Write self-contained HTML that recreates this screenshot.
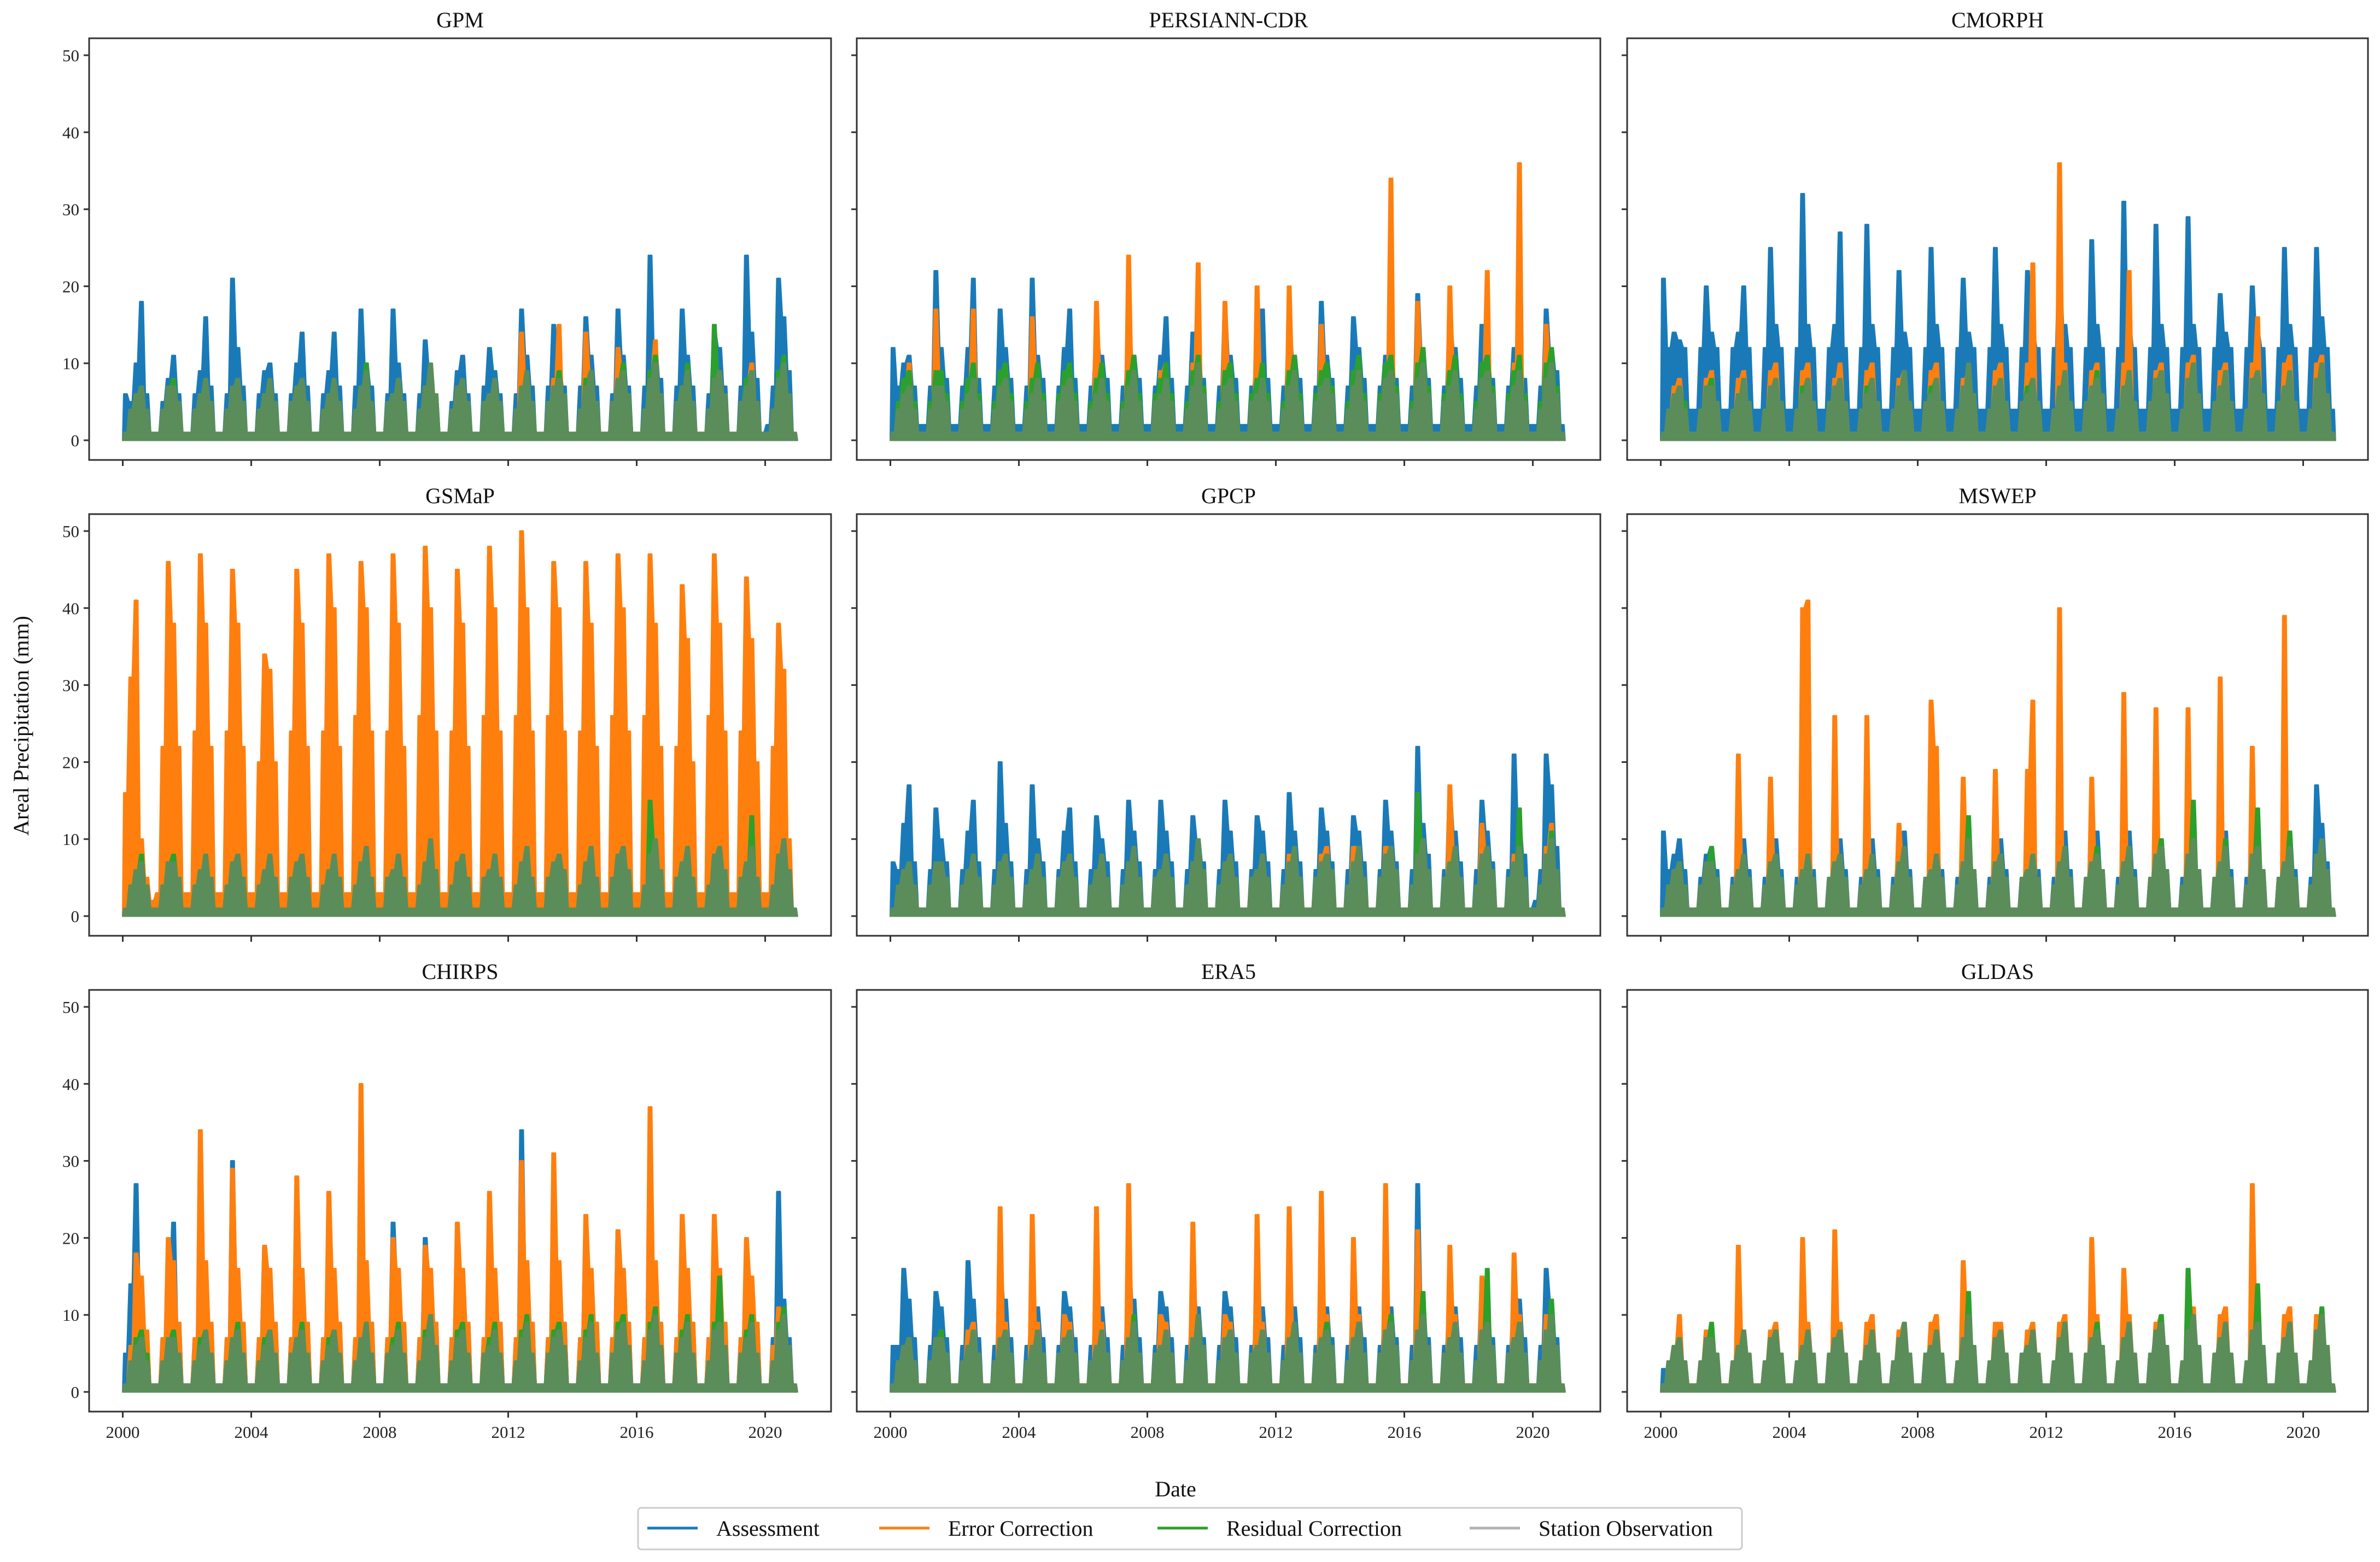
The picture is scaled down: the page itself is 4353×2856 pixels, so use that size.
<!DOCTYPE html>
<html><head><meta charset="utf-8">
<style>
html,body{margin:0;padding:0;background:#fff;}
svg{display:block;font-family:"Liberation Serif","DejaVu Serif",serif;}
</style></head>
<body>
<svg id="chart" width="4353" height="2856" viewBox="0 0 4353 2856" xmlns="http://www.w3.org/2000/svg"></svg>
<script>
// ---- data: 6 bins per year, 2000..2020 (mm) ----
const panelNames = ["GPM","PERSIANN-CDR","CMORPH","GSMaP","GPCP","MSWEP","CHIRPS","ERA5","GLDAS"];
const yTicks = [0,10,20,30,40,50];
const xTicks = [2000,2004,2008,2012,2016,2020];
const seriesNames = ["Assessment","Error Correction","Residual Correction","Station Observation"];

const ST = [1,4,6,7,4,1, 1,4,7,7,5,1, 1,4,6,8,5,1, 1,4,7,8,5,1, 1,4,6,8,5,1, 1,5,7,8,5,1, 1,4,6,8,5,1, 1,4,7,9,5,1, 1,5,6,8,5,1, 1,4,7,10,6,1, 1,4,7,8,5,1, 1,5,6,8,5,1, 1,4,7,9,5,1, 1,5,7,8,6,1, 1,4,7,9,5,1, 1,5,8,9,6,1, 1,4,8,10,6,1, 1,5,7,9,5,1, 1,4,8,9,6,1, 1,5,7,9,5,1, 1,4,8,10,6,1];

const B1 = [6,5,10,18,6,1, 1,5,8,11,6,1, 1,6,9,16,7,1, 1,6,21,12,7,1, 1,6,9,10,6,1, 1,6,10,14,7,1, 1,6,9,14,7,1, 1,7,17,10,7,1, 1,6,17,10,6,1, 1,6,13,9,6,1, 1,5,9,11,6,1, 1,7,12,9,6,1, 1,6,17,11,7,1, 1,7,15,10,7,1, 1,7,16,11,7,1, 1,6,17,11,7,1, 1,7,24,12,8,1, 1,7,17,11,7,1, 1,6,14,12,7,1, 1,7,24,14,8,1, 2,7,21,16,9,1];
const O1 = [1,2,4,5,3,1, 1,3,5,6,4,1, 1,3,5,6,4,1, 1,3,5,7,4,1, 1,3,5,6,4,1, 1,3,6,7,4,1, 1,3,6,7,4,1, 1,3,6,7,4,1, 1,3,6,7,4,1, 1,3,6,7,4,1, 1,3,5,7,4,1, 1,3,6,7,4,1, 1,4,14,8,5,1, 1,4,8,15,5,1, 1,4,14,9,5,1, 1,4,12,9,5,1, 1,4,9,13,5,1, 1,4,7,9,5,1, 1,4,9,8,5,1, 1,4,8,10,5,1, 1,4,8,9,5,1];
const R1 = [1,4,6,7,4,1, 1,4,7,8,5,1, 1,4,6,8,5,1, 1,4,7,8,5,1, 1,4,6,8,5,1, 1,5,7,8,5,1, 1,4,6,8,5,1, 1,4,7,10,5,1, 1,5,6,8,5,1, 1,4,7,10,6,1, 1,4,7,8,5,1, 1,5,6,8,5,1, 1,4,7,9,5,1, 1,5,7,9,6,1, 1,4,8,9,5,1, 1,5,8,10,6,1, 1,4,9,11,6,1, 1,5,7,10,5,1, 1,4,15,9,6,1, 1,5,8,9,5,1, 1,4,9,11,6,1];

const B2 = [12,7,10,11,7,2, 2,7,22,12,8,2, 2,7,12,21,8,2, 2,7,17,12,8,2, 2,7,21,11,8,2, 2,7,12,17,8,2, 2,7,14,11,8,2, 2,7,15,11,8,2, 2,7,11,16,8,2, 2,7,14,11,8,2, 2,7,17,11,8,2, 2,7,11,17,8,2, 2,7,15,11,8,2, 2,7,18,11,8,2, 2,7,16,12,8,2, 2,7,11,15,8,2, 2,7,19,12,8,2, 2,7,16,12,8,2, 2,7,15,12,8,2, 2,7,12,15,8,2, 2,7,17,12,9,2];
const O2 = [1,4,6,10,5,1, 1,4,17,8,5,1, 1,4,8,17,5,1, 1,4,9,8,5,1, 1,4,16,9,5,1, 1,4,8,9,5,1, 1,4,18,9,5,1, 1,4,24,9,5,1, 1,4,9,10,5,1, 1,4,10,23,5,1, 1,4,18,9,5,1, 1,4,20,9,5,1, 1,4,20,9,5,1, 1,4,15,9,5,1, 1,4,9,10,5,1, 1,4,10,34,5,1, 1,4,18,10,5,1, 1,4,20,10,5,1, 1,4,10,22,5,1, 1,4,10,36,6,1, 1,4,15,9,5,1];
const R2 = [1,5,8,9,5,1, 1,5,9,9,6,1, 1,5,8,10,6,1, 1,5,9,10,6,1, 1,5,8,10,6,1, 1,6,9,10,6,1, 1,5,8,10,6,1, 1,5,9,11,6,1, 1,6,8,10,6,1, 1,5,9,11,7,1, 1,5,9,10,6,1, 1,6,8,10,6,1, 1,5,9,11,6,1, 1,6,9,10,7,1, 1,5,9,11,6,1, 1,6,10,11,7,1, 1,5,10,12,7,1, 1,6,9,11,6,1, 1,5,10,11,7,1, 1,6,9,11,6,1, 1,5,10,12,7,1];

const B3 = [21,12,14,13,12,4, 4,12,20,14,12,4, 4,12,14,20,12,4, 4,12,25,15,12,4, 4,12,32,15,12,4, 4,12,15,27,12,4, 4,12,28,15,12,4, 4,12,22,14,12,4, 4,12,25,15,12,4, 4,12,21,14,12,4, 4,12,25,15,12,4, 4,12,22,14,12,4, 4,12,23,15,12,4, 4,12,26,15,12,4, 4,12,31,15,12,4, 4,12,28,15,12,4, 4,12,29,15,12,4, 4,12,19,14,12,4, 4,12,20,14,12,4, 4,12,25,15,12,4, 4,12,25,16,12,4];
const O3 = [1,4,7,8,5,1, 1,4,8,9,5,1, 1,4,8,9,5,1, 1,4,9,10,5,1, 1,4,9,10,5,1, 1,4,8,10,5,1, 1,4,9,10,5,1, 1,4,8,9,5,1, 1,4,9,10,5,1, 1,4,8,9,5,1, 1,4,9,10,5,1, 1,4,10,23,5,1, 1,4,36,10,5,1, 1,4,9,10,5,1, 1,4,10,22,5,1, 1,4,9,10,5,1, 1,4,10,11,5,1, 1,4,9,10,5,1, 1,4,10,16,5,1, 1,4,10,11,5,1, 1,4,10,11,5,1];
const R3 = [1,4,6,7,5,1, 1,4,7,8,5,1, 1,4,6,8,5,1, 1,4,7,8,5,1, 1,4,7,8,5,1, 1,5,7,8,5,1, 1,4,7,8,5,1, 1,4,7,9,5,1, 1,5,7,8,5,1, 1,4,7,10,6,1, 1,4,7,8,5,1, 1,5,7,8,5,1, 1,4,7,9,5,1, 1,5,7,9,6,1, 1,4,7,9,5,1, 1,5,8,9,6,1, 1,4,8,10,6,1, 1,5,7,9,5,1, 1,4,8,9,6,1, 1,5,7,9,5,1, 1,4,8,10,6,1];

const B4 = [1,0,1,1,0,0, 0,0,1,1,0,0, 0,0,1,1,0,0, 0,0,1,1,0,0, 0,0,1,1,0,0, 0,0,1,1,0,0, 0,0,1,1,0,0, 0,0,1,1,0,0, 0,0,1,1,0,0, 0,0,1,1,0,0, 0,0,1,1,0,0, 0,0,1,1,0,0, 0,0,1,1,0,0, 0,0,1,1,0,0, 0,0,1,1,0,0, 0,0,1,1,0,0, 0,0,1,1,0,0, 0,0,1,1,0,0, 0,0,1,1,0,0, 0,0,1,1,0,0, 0,0,1,1,0,0];
const O4 = [16,31,41,10,5,2, 3,22,46,38,22,3, 3,24,47,38,22,3, 3,24,45,38,22,3, 3,20,34,32,20,3, 3,24,45,38,22,3, 3,24,47,40,22,3, 3,26,46,40,24,3, 3,24,47,38,22,3, 3,26,48,40,24,3, 3,24,45,38,22,3, 3,26,48,40,24,3, 3,26,50,40,24,3, 3,26,46,40,24,3, 3,24,46,38,22,3, 3,26,47,40,24,3, 3,26,47,38,22,3, 3,22,43,36,20,3, 3,26,47,38,24,3, 3,24,44,36,20,3, 3,22,38,32,10,1];
const R4 = [1,4,6,8,4,1, 1,4,7,8,5,1, 1,4,6,8,5,1, 1,4,7,8,5,1, 1,4,6,8,5,1, 1,5,7,8,5,1, 1,4,6,8,5,1, 1,4,7,9,5,1, 1,5,6,8,5,1, 1,4,7,10,6,1, 1,4,7,8,5,1, 1,5,6,8,5,1, 1,4,7,9,5,1, 1,5,7,8,6,1, 1,4,7,9,5,1, 1,5,8,9,6,1, 1,4,15,10,6,1, 1,5,7,9,5,1, 1,4,8,9,6,1, 1,5,7,13,5,1, 1,4,8,10,6,1];

const B5 = [7,6,12,17,7,1, 1,6,14,10,7,1, 1,6,11,15,7,1, 1,6,20,12,7,1, 1,6,17,10,7,1, 1,6,11,14,7,1, 1,6,13,10,7,1, 1,6,15,11,7,1, 1,6,15,11,7,1, 1,6,13,10,7,1, 1,6,15,11,7,1, 1,6,13,11,7,1, 1,6,16,11,7,1, 1,6,14,11,7,1, 1,6,13,11,7,1, 1,6,15,11,7,1, 1,6,22,12,8,1, 1,6,16,11,7,1, 1,6,15,11,7,1, 1,6,21,12,8,1, 2,6,21,17,9,1];
const O5 = [1,3,4,5,4,1, 1,3,5,6,4,1, 1,3,5,6,4,1, 1,3,5,7,4,1, 1,3,5,6,4,1, 1,3,6,7,4,1, 1,3,6,7,4,1, 1,3,6,7,4,1, 1,3,6,7,4,1, 1,3,6,7,4,1, 1,3,5,7,4,1, 1,3,6,7,4,1, 1,4,8,8,5,1, 1,4,8,9,5,1, 1,4,9,9,5,1, 1,4,9,9,5,1, 1,4,16,10,5,1, 1,4,17,9,5,1, 1,4,12,8,5,1, 1,4,8,10,5,1, 1,4,9,12,5,1];
const R5 = [1,4,6,7,4,1, 1,4,7,7,5,1, 1,4,6,8,5,1, 1,4,7,8,5,1, 1,4,6,8,5,1, 1,5,7,8,5,1, 1,4,6,8,5,1, 1,4,7,9,5,1, 1,5,6,8,5,1, 1,4,7,10,6,1, 1,4,7,8,5,1, 1,5,6,8,5,1, 1,4,7,9,5,1, 1,5,7,8,6,1, 1,4,7,9,5,1, 1,5,8,9,6,1, 1,4,16,10,6,1, 1,5,7,9,5,1, 1,4,8,9,6,1, 1,5,7,14,5,1, 1,4,8,11,6,1];

const B6 = [11,6,8,10,6,1, 1,5,8,9,6,1, 1,5,9,10,6,1, 1,5,9,10,6,1, 1,5,9,10,6,1, 1,5,9,10,6,1, 1,5,9,10,6,1, 1,5,9,11,6,1, 1,5,9,10,6,1, 1,5,12,10,6,1, 1,5,9,10,6,1, 1,5,9,10,6,1, 1,5,10,11,6,1, 1,5,10,11,6,1, 1,5,10,11,6,1, 1,5,11,10,6,1, 1,5,11,12,6,1, 1,5,10,11,6,1, 1,5,11,11,6,1, 1,5,10,11,6,1, 1,5,17,12,7,1];
const O6 = [1,4,5,6,4,1, 1,4,6,7,4,1, 1,4,21,7,4,1, 1,4,18,7,4,1, 1,4,40,41,4,1, 1,4,26,7,4,1, 1,4,26,7,4,1, 1,4,12,7,4,1, 1,4,28,22,4,1, 1,4,18,7,4,1, 1,4,19,7,4,1, 1,4,19,28,4,1, 1,4,40,7,4,1, 1,4,18,7,4,1, 1,4,29,7,4,1, 1,4,27,7,4,1, 1,4,27,7,4,1, 1,4,31,7,4,1, 1,4,22,7,4,1, 1,4,39,8,4,1, 1,4,7,8,4,1];
const R6 = [1,4,6,7,4,1, 1,4,7,9,5,1, 1,4,6,8,5,1, 1,4,7,8,5,1, 1,4,6,8,5,1, 1,5,7,8,5,1, 1,4,6,8,5,1, 1,4,7,9,5,1, 1,5,6,8,5,1, 1,4,7,13,6,1, 1,4,7,8,5,1, 1,5,6,8,5,1, 1,4,7,9,5,1, 1,5,7,9,6,1, 1,4,7,9,5,1, 1,5,8,10,6,1, 1,4,8,15,6,1, 1,5,7,10,5,1, 1,4,8,14,6,1, 1,5,7,11,5,1, 1,4,8,10,6,1];

const B7 = [5,14,27,12,7,1, 1,7,14,22,9,1, 1,7,20,14,9,1, 1,7,30,15,9,1, 1,7,19,14,9,1, 1,7,20,15,9,1, 1,7,18,14,9,1, 1,7,15,14,9,1, 1,7,22,15,9,1, 1,7,20,15,9,1, 1,7,19,15,9,1, 1,7,20,15,9,1, 1,7,34,16,9,1, 1,7,25,15,9,1, 1,7,22,15,9,1, 1,7,21,16,9,1, 1,7,34,16,9,1, 1,7,20,15,9,1, 1,7,18,15,9,1, 1,7,16,14,9,1, 1,7,26,12,7,1];
const O7 = [1,6,18,15,8,1, 1,7,20,17,9,1, 1,7,34,17,9,1, 1,7,29,16,9,1, 1,7,19,16,9,1, 1,7,28,16,9,1, 1,7,26,16,9,1, 1,7,40,17,9,1, 1,7,20,16,9,1, 1,7,19,16,9,1, 1,7,22,16,9,1, 1,7,26,16,9,1, 1,7,30,17,9,1, 1,7,31,17,9,1, 1,7,23,16,9,1, 1,7,21,16,9,1, 1,7,37,17,9,1, 1,7,23,16,9,1, 1,7,23,16,9,1, 1,7,20,15,9,1, 1,6,11,9,6,1];
const R7 = [1,4,7,8,5,1, 1,4,7,8,5,1, 1,4,7,8,5,1, 1,4,7,9,5,1, 1,4,7,8,5,1, 1,5,7,9,5,1, 1,4,7,8,5,1, 1,4,7,9,5,1, 1,5,7,9,5,1, 1,4,8,10,6,1, 1,4,8,9,5,1, 1,5,7,9,5,1, 1,4,8,10,5,1, 1,5,8,9,6,1, 1,4,8,10,5,1, 1,5,9,10,6,1, 1,4,9,11,6,1, 1,5,8,10,5,1, 1,4,9,15,6,1, 1,5,8,10,5,1, 1,4,9,11,6,1];

const B8 = [6,6,16,12,7,1, 1,6,13,11,7,1, 1,6,17,12,7,1, 1,6,17,12,7,1, 1,6,12,11,7,1, 1,6,13,11,7,1, 1,6,13,11,7,1, 1,6,18,12,7,1, 1,6,13,11,7,1, 1,6,14,11,7,1, 1,6,13,11,7,1, 1,6,12,11,7,1, 1,6,14,11,7,1, 1,6,13,11,7,1, 1,6,13,11,7,1, 1,6,14,11,7,1, 1,6,27,12,7,1, 1,6,13,11,7,1, 1,6,14,11,7,1, 1,6,13,12,7,1, 1,6,16,12,7,1];
const O8 = [1,4,6,7,4,1, 1,4,7,8,5,1, 1,4,8,9,5,1, 1,4,24,9,5,1, 1,4,23,9,5,1, 1,4,10,9,5,1, 1,4,24,9,5,1, 1,4,27,9,5,1, 1,4,10,9,5,1, 1,4,22,9,5,1, 1,4,10,9,5,1, 1,4,23,9,5,1, 1,4,24,9,5,1, 1,4,26,10,5,1, 1,4,20,10,5,1, 1,4,27,10,5,1, 1,4,21,10,5,1, 1,4,19,10,5,1, 1,4,15,10,5,1, 1,4,18,10,5,1, 1,4,10,10,5,1];
const R8 = [1,4,6,7,4,1, 1,4,7,8,5,1, 1,4,6,8,5,1, 1,4,7,8,5,1, 1,4,6,8,5,1, 1,5,7,8,5,1, 1,4,6,8,5,1, 1,4,7,10,5,1, 1,5,6,8,5,1, 1,4,7,10,6,1, 1,4,7,8,5,1, 1,5,6,8,5,1, 1,4,7,9,5,1, 1,5,7,9,6,1, 1,4,7,9,5,1, 1,5,8,10,6,1, 1,4,8,13,6,1, 1,5,7,9,5,1, 1,4,8,16,6,1, 1,5,7,9,5,1, 1,4,8,12,6,1];

const B9 = [3,3,5,6,4,1, 1,3,6,6,4,1, 1,3,5,6,4,1, 1,3,6,6,4,1, 1,3,5,6,4,1, 1,3,6,6,4,1, 1,3,5,6,4,1, 1,3,6,7,4,1, 1,3,5,6,4,1, 1,3,6,7,4,1, 1,3,6,6,4,1, 1,3,5,6,4,1, 1,3,6,7,4,1, 1,3,6,6,4,1, 1,3,6,7,4,1, 1,3,6,7,4,1, 1,3,7,7,4,1, 1,3,6,7,4,1, 1,3,6,7,4,1, 1,3,6,7,4,1, 1,3,8,7,4,1];
const O9 = [1,4,6,10,4,1, 1,4,8,8,5,1, 1,4,19,8,5,1, 1,4,8,9,5,1, 1,4,20,9,5,1, 1,4,21,9,5,1, 1,4,9,10,5,1, 1,4,8,9,5,1, 1,4,9,10,5,1, 1,4,17,10,5,1, 1,4,9,9,5,1, 1,4,8,9,5,1, 1,4,9,10,5,1, 1,4,20,10,5,1, 1,4,16,10,5,1, 1,4,9,10,5,1, 1,4,10,11,5,1, 1,4,10,11,5,1, 1,4,27,12,5,1, 1,4,10,11,5,1, 1,4,10,10,5,1];
const R9 = [1,4,6,7,4,1, 1,4,7,9,5,1, 1,4,6,8,5,1, 1,4,7,8,5,1, 1,4,6,8,5,1, 1,5,7,8,5,1, 1,4,6,8,5,1, 1,4,7,9,5,1, 1,5,6,8,5,1, 1,4,7,13,6,1, 1,4,7,8,5,1, 1,5,6,8,5,1, 1,4,7,9,5,1, 1,5,7,9,6,1, 1,4,7,9,5,1, 1,5,8,10,6,1, 1,4,16,10,6,1, 1,5,7,9,5,1, 1,4,8,14,6,1, 1,5,7,9,5,1, 1,4,8,11,6,1];

const assessment = [B1,B2,B3,B4,B5,B6,B7,B8,B9];
const errorCorr = [O1,O2,O3,O4,O5,O6,O7,O8,O9];
const residualCorr = [R1,R2,R3,R4,R5,R6,R7,R8,R9];

// ---- layout ----
const NS = "http://www.w3.org/2000/svg";
const svg = document.getElementById('chart');
const colLeft = [163,1567,2976], colW = [1357,1360,1355];
const rowTop = [70,940,1810], rowH = 771;
const COLORS = ["#1a7ab8","#ff7f0e","#2ca02c","#7f7f7f"];
function mk(tag, attrs, parent){const e=document.createElementNS(NS,tag);for(const k in attrs)e.setAttribute(k,attrs[k]);(parent||svg).appendChild(e);return e;}

for(let p=0;p<9;p++){
  const c=p%3, r=Math.floor(p/3);
  const L=colLeft[c], T=rowTop[r], W=colW[c];
  const xS = yr => L + 61.5 + (yr-2000)*58.75;
  const yS = v => T + 735 - v*14.08;
  const g = mk('g',{});
  
  
  const t = mk('text',{x:L+W/2,y:T-20,'text-anchor':'middle','font-size':40,fill:'#111'},g);
  t.textContent = panelNames[p];
  
  
  const sets=[assessment[p],errorCorr[p],residualCorr[p],ST];
  sets.forEach((arr,si)=>{
    let pts = xS(2000)+','+yS(0)+' ';
    arr.forEach((v,i)=>{
      pts += xS(2000+(i+0.2)/6).toFixed(1)+','+yS(v).toFixed(1)+' ';
      pts += xS(2000+(i+0.8)/6).toFixed(1)+','+yS(v).toFixed(1)+' ';
    });
    pts += xS(2021)+','+yS(0);
    const poly = mk('polygon',{points:pts,fill:COLORS[si],stroke:COLORS[si],'stroke-width':3,'stroke-linejoin':'round',opacity:si===3?0.57:1},g);
    
    
  });
  const fr = mk('rect',{x:L,y:T,width:W,height:rowH,fill:'none',stroke:'#333',"stroke-width":3},g);
  
  
  yTicks.forEach(v=>{
    mk('line',{x1:L-10,x2:L,y1:yS(v),y2:yS(v),stroke:'#333','stroke-width':3},g);
    if(c===0){
      const tl = mk('text',{x:L-18,y:yS(v)+11,'text-anchor':'end','font-size':31,fill:'#222'},g);
      tl.textContent=v;
      
      
    }
  });
  xTicks.forEach(v=>{
    mk('line',{x1:xS(v),x2:xS(v),y1:T+rowH,y2:T+rowH+11,stroke:'#333','stroke-width':3},g);
    if(r===2){
      const tl = mk('text',{x:xS(v),y:2629,'text-anchor':'middle','font-size':31,fill:'#222'},g);
      tl.textContent=v;
      
      
    }
  });
}

const yl = mk('text',{x:0,y:0,transform:'translate(52,1327) rotate(-90)','text-anchor':'middle','font-size':40,fill:'#111'});
yl.textContent='Areal Precipitation (mm)';


const xl = mk('text',{x:2150,y:2736,'text-anchor':'middle','font-size':40,fill:'#111'});
xl.textContent='Date';



const lg = mk('g',{});


mk('rect',{x:1167,y:2757,width:2019,height:76,rx:6,fill:'#fff',stroke:'#ccc','stroke-width':3},lg);
const legX = [1184,1608,2117,2688];
seriesNames.forEach((n,i)=>{
  const e = mk('g',{},lg);
  
  
  mk('line',{x1:legX[i],x2:legX[i]+92,y1:2794,y2:2794,stroke:COLORS[i],'stroke-width':5,opacity:i===3?0.6:1},e);
  const tx = mk('text',{x:legX[i]+126,y:2808,'font-size':40,fill:'#111'},e);
  tx.textContent=n;
});
</script>
</body></html>
